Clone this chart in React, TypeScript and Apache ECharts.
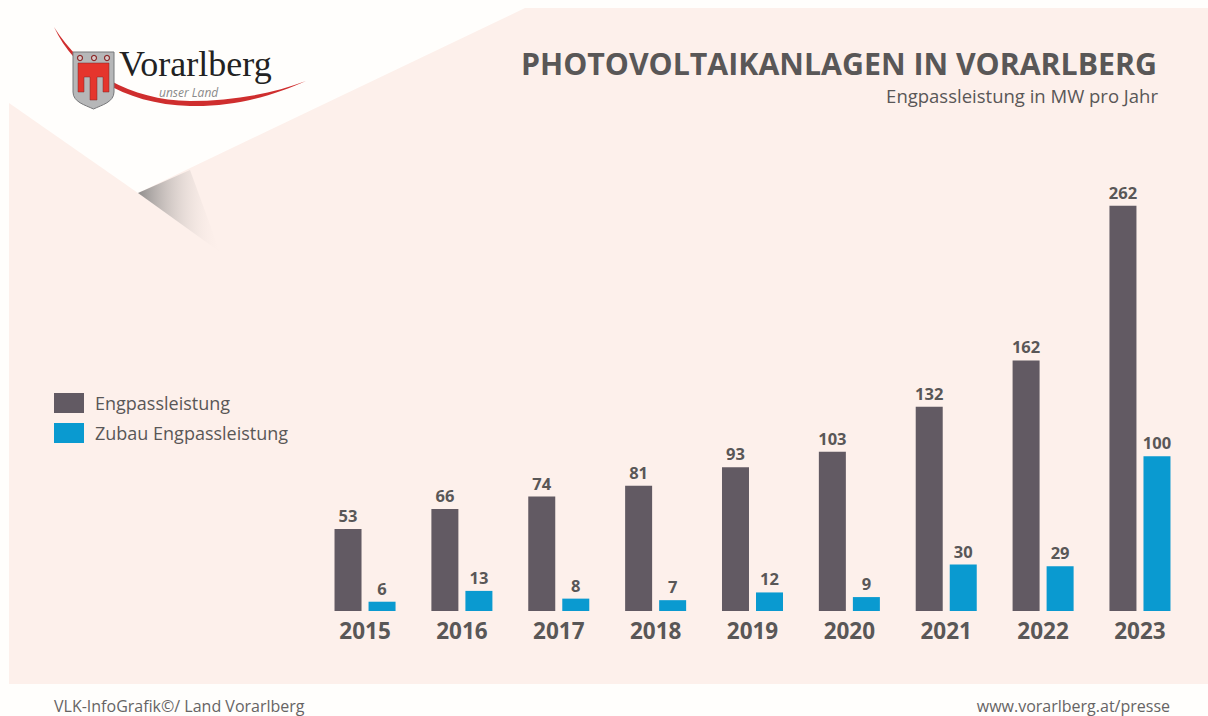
import React, { useEffect, useRef } from "react";
import * as echarts from "echarts";

const years = ["2015", "2016", "2017", "2018", "2019", "2020", "2021", "2022", "2023"];
const engpassleistung = [53, 66, 74, 81, 93, 103, 132, 162, 262];
const zubau = [6, 13, 8, 7, 12, 9, 30, 29, 100];

const FONT = "'Open Sans', sans-serif";
const TEXT = "#595757";

echarts.graphic.registerShape("vlbgSwoosh", echarts.graphic.extendPath("M54 27 C75 72 122 104 190 106 C235 107 275 95 306 81 C272 94 232 101 190 101 C130 100 82 72 54 27 Z", {}));
echarts.graphic.registerShape("vlbgShield", echarts.graphic.extendPath("M73 52 L114 52 L114 92 C114 102 102 105 93.5 109 C85 105 73 102 73 92 Z", {}));
echarts.graphic.registerShape("vlbgBanner", echarts.graphic.extendPath("M78 63 L109 63 L109 92 L103 92 L103 77 L97 77 L97 100 L90 100 L90 77 L84 77 L84 92 L78 92 Z", {}));

export default function App() {
  const ref = useRef<HTMLDivElement>(null);
  useEffect(() => {
    document.body.style.margin = "0";
    const chart = echarts.init(ref.current!, undefined, { renderer: "svg" });
    const label = {
      show: true,
      position: "top",
      distance: 5,
      fontFamily: FONT,
      fontWeight: "bold",
      fontSize: 16.5,
      color: TEXT,
    };
    chart.setOption({
      animation: false,
      backgroundColor: "#fffefc",
      title: [
        {
          text: "PHOTOVOLTAIKANLAGEN IN VORARLBERG",
          right: 46,
          top: 43,
          textStyle: { fontFamily: FONT, fontWeight: "bold", fontSize: 30.3, color: TEXT },
        },
        {
          text: "Engpassleistung in MW pro Jahr",
          right: 45,
          top: 81,
          textStyle: { fontFamily: FONT, fontWeight: "normal", fontSize: 18.5, color: TEXT },
        },
      ],
      legend: {
        left: 49,
        top: 388,
        orient: "vertical",
        itemWidth: 30,
        itemHeight: 20,
        itemGap: 10,
        icon: "rect",
        textStyle: { fontFamily: FONT, fontSize: 18, color: TEXT, padding: [0, 0, 0, 6] },
        data: ["Engpassleistung", "Zubau Engpassleistung"],
      },
      grid: { left: 316.6, right: 19.6, top: 178, bottom: 105 },
      xAxis: {
        type: "category",
        data: years,
        axisLine: { show: false },
        axisTick: { show: false },
        axisLabel: { fontFamily: FONT, fontWeight: "bold", fontSize: 22.5, color: TEXT, margin: 8 },
      },
      yAxis: { type: "value", min: 0, max: 280, show: false, splitLine: { show: false } },
      series: [
        { name: "Engpassleistung", type: "bar", data: engpassleistung, barWidth: 27, barGap: "26%", itemStyle: { color: "#625a63" }, label },
        { name: "Zubau Engpassleistung", type: "bar", data: zubau, barWidth: 27, barGap: "26%", itemStyle: { color: "#0a9ad0" }, label },
      ],
      graphic: [
        { type: "rect", z: -10, silent: true, shape: { x: 9, y: 8, width: 1199, height: 676 }, style: { fill: "#fdf0eb" } },
        { type: "polygon", z: -9, silent: true, shape: { points: [[9, 8], [525, 8], [138, 193], [9, 103]] }, style: { fill: "#fffefc" } },
        {
          type: "polygon", z: -8, silent: true,
          shape: { points: [[138, 193], [190, 170], [220, 252]] },
          style: {
            fill: {
              type: "linear", x: 138, y: 193, x2: 222, y2: 193, global: true,
              colorStops: [{ offset: 0, color: "#8f8d8c" }, { offset: 1, color: "rgba(253,240,235,0)" }],
            },
          },
        },
        { type: "vlbgSwoosh", z: -7, silent: true, style: { fill: "#cf2e2e" } },
        { type: "vlbgShield", z: -6, silent: true, style: { fill: "#b6b7b8", stroke: "#77787a", lineWidth: 1 } },
        { type: "vlbgBanner", z: -5, silent: true, style: { fill: "#e5352d", stroke: "#7c2a28", lineWidth: 0.5 } },
        { type: "circle", z: -5, silent: true, shape: { cx: 80, cy: 58, r: 2.5 }, style: { fill: "#d8c9c9", stroke: "#8c2b2b", lineWidth: 1.2 } },
        { type: "circle", z: -5, silent: true, shape: { cx: 94, cy: 58, r: 2.5 }, style: { fill: "#d8c9c9", stroke: "#8c2b2b", lineWidth: 1.2 } },
        { type: "circle", z: -5, silent: true, shape: { cx: 107, cy: 58, r: 2.5 }, style: { fill: "#d8c9c9", stroke: "#8c2b2b", lineWidth: 1.2 } },
        { type: "text", z: -5, silent: true, x: 119, y: 48, style: { text: "Vorarlberg", fontFamily: "'Liberation Serif', serif", fontSize: 36, lineHeight: 32, fill: "#222222" } },
        { type: "text", z: -5, silent: true, x: 159, y: 86, style: { text: "unser Land", fontFamily: FONT, fontStyle: "italic", fontSize: 12, lineHeight: 12, fill: "#8a8a8a" } },
        { type: "text", silent: true, x: 54, y: 698, style: { text: "VLK-InfoGrafik©/ Land Vorarlberg", fontFamily: FONT, fontSize: 16, lineHeight: 16, fill: "#666464" } },
        { type: "text", silent: true, x: 1170, y: 698, style: { text: "www.vorarlberg.at/presse", align: "right", fontFamily: FONT, fontSize: 16, lineHeight: 16, fill: "#666464" } },
      ],
    });
    return () => chart.dispose();
  }, []);
  return <div ref={ref} style={{ position: "absolute", left: 0, top: 0, width: 1208, height: 716 }} />;
}
